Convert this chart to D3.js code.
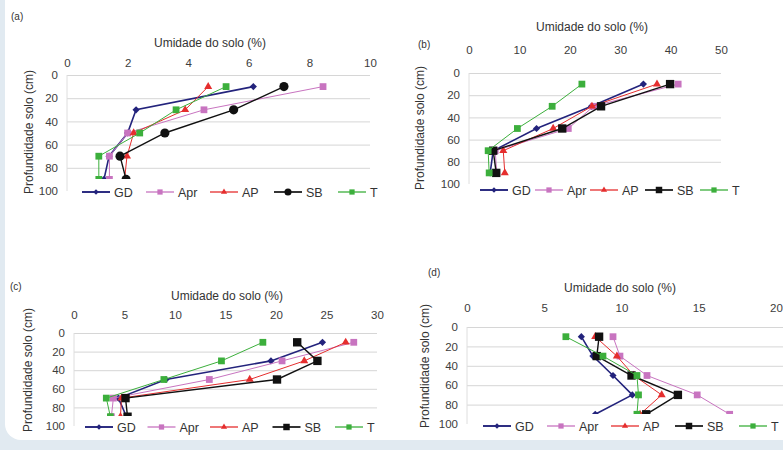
<!DOCTYPE html>
<html>
<head>
  <meta charset="utf-8">
  <title>Umidade do solo</title>
  <style>
    html, body { margin: 0; padding: 0; background: #e1eaf1; }
    svg { display: block; font-family: "Liberation Sans", Arial, sans-serif; }
    .tick text { fill: #3c3c3c; }
    .grid line { stroke: #d6d6d6; }
    .grid path { display: none; }
  </style>
  <script src="https://d3js.org/d3.v7.min.js"></script>
</head>
<body>
<svg width="783" height="450"></svg>
<script>
// depths (cm) of the measurements, same for every panel
var depths = [10, 30, 50, 70, 90];
var seriesNames = ["GD", "Apr", "AP", "SB", "T"];
var yTicks = [0, 20, 40, 60, 80, 100];

// (a) values, one row per series: GD, Apr, AP, SB, T
var valuesA = [
  [6.15, 2.28, 2.0, 1.39, 1.22],
  [8.45, 4.52, 2.0, 1.4, 1.4],
  [4.66, 3.9, 2.2, 1.98, 1.9],
  [7.16, 5.5, 3.23, 1.75, 1.95],
  [5.25, 3.6, 2.4, 1.05, 1.05]
];
var xTicksA = [0, 2, 4, 6, 8, 10];

// (b)
var valuesB = [
  [34.6, 24.3, 13.4, 4.8, 4.2],
  [41.5, 24.7, 19.7, 5.2, 5.5],
  [37.3, 24.4, 16.7, 6.8, 7.1],
  [39.9, 26.2, 18.5, 4.8, 5.4],
  [22.4, 16.5, 9.6, 3.8, 4.0]
];
var xTicksB = [0, 10, 20, 30, 40, 50];

// (c)
var valuesC = [
  [24.6, 19.5, 9.1, 4.4, 5.2],
  [27.7, 20.6, 13.4, 3.9, 3.7],
  [26.9, 22.8, 17.4, 4.7, 4.6],
  [22.1, 24.1, 20.1, 5.1, 5.3],
  [18.7, 14.6, 8.9, 3.2, 3.6]
];
var xTicksC = [0, 5, 10, 15, 20, 25, 30];

// (d)
var valuesD = [
  [7.4, 8.15, 9.45, 10.7, 8.3],
  [9.45, 9.9, 11.65, 14.9, 17.0],
  [8.3, 9.7, 10.8, 12.6, 11.2],
  [8.55, 8.4, 10.65, 13.65, 11.6],
  [6.4, 8.8, 11.0, 11.1, 11.0]
];
var xTicksD = [0, 5, 10, 15, 20];

var colors = ["#23237c", "#c874c0", "#e52e2e", "#111111", "#3caf3c"];
var widths = [1.6, 1, 1, 1.4, 1];

// excel style diamond: a square turned 45 degrees
var symbolDiamondSq = {
  draw: function(ctx, size) {
    var r = Math.sqrt(size / 2);
    ctx.moveTo(0, -r);
    ctx.lineTo(r, 0);
    ctx.lineTo(0, r);
    ctx.lineTo(-r, 0);
    ctx.closePath();
  }
};

var svg = d3.select("svg");

// page frame: light blue background with white rounded sheet
svg.append("rect")
    .attr("x", 5).attr("y", -20)
    .attr("width", 800).attr("height", 460)
    .attr("rx", 16)
    .attr("fill", "#ffffff");

function drawPanel(p) {
  var x = d3.scaleLinear().domain([p.xTicks[0], p.xTicks[p.xTicks.length - 1]]).range([p.x0, p.x1]);
  var y = d3.scaleLinear().domain([0, 100]).range([p.y0, p.y1]);
  var g = svg.append("g");

  // horizontal grid
  g.append("g")
      .attr("class", "grid")
      .attr("transform", "translate(" + p.x0 + ",0)")
      .call(d3.axisRight(y).tickValues(yTicks.slice(0, 5)).tickSize(p.x1 - p.x0 + p.gridExtra).tickFormat(""));

  // faint vertical axis line
  g.append("line")
      .attr("x1", p.x0).attr("x2", p.x0)
      .attr("y1", p.y0).attr("y2", p.y1)
      .attr("stroke", "#dedede");

  // x tick labels on top
  var xa = g.append("g")
      .attr("transform", "translate(0," + p.y0 + ")")
      .call(d3.axisTop(x).tickValues(p.xTicks).tickSize(0).tickPadding(p.xPad));
  xa.select(".domain").remove();
  xa.selectAll("text").attr("font-size", 11.5);

  var ya = g.append("g")
      .attr("transform", "translate(" + p.x0 + ",0)")
      .call(d3.axisLeft(y).tickValues(yTicks).tickSize(0).tickPadding(9));
  ya.select(".domain").remove();
  ya.selectAll("text").attr("font-size", 11.5);

  // axis titles and panel label
  g.append("text")
      .attr("x", p.titleX).attr("y", p.titleY)
      .attr("text-anchor", "middle")
      .attr("font-size", 12)
      .attr("fill", "#333")
      .text("Umidade do solo (%)");
  g.append("text")
      .attr("transform", "translate(" + p.yTitleX + "," + p.yTitleY + ") rotate(-90)")
      .attr("text-anchor", "middle")
      .attr("font-size", 12)
      .attr("fill", "#333")
      .text("Profundidade solo (cm)");
  g.append("text")
      .attr("x", p.labelX).attr("y", p.labelY)
      .attr("font-size", 10)
      .attr("fill", "#333")
      .text(p.label);

  var line = d3.line()
      .x(function(d) { return x(d[0]); })
      .y(function(d) { return y(d[1]); });

  var shapes = [symbolDiamondSq, d3.symbolSquare, d3.symbolTriangle, p.sbCircle ? d3.symbolCircle : d3.symbolSquare, d3.symbolSquare];
  var sizes = [26, 46, 28, p.sbCircle ? 66 : 70, 46];

  p.values.forEach(function(vals, i) {
    var pts = vals.map(function(v, k) { return [v, depths[k]]; });
    g.append("path")
        .datum(pts)
        .attr("d", line)
        .attr("fill", "none")
        .attr("stroke", colors[i])
        .attr("stroke-width", widths[i]);
    g.selectAll(null)
        .data(pts)
        .enter().append("path")
        .attr("transform", function(d) { return "translate(" + x(d[0]) + "," + y(d[1]) + ")"; })
        .attr("d", d3.symbol().type(shapes[i]).size(sizes[i]))
        .attr("fill", colors[i]);
  });

  // legend, drawn on a white box that hides the bottom of the plot
  var lg = g.append("g").attr("transform", "translate(0," + p.legendY + ")");
  lg.append("rect")
      .attr("x", p.x0 + 2).attr("y", -p.legendTop)
      .attr("width", p.x1 - p.x0 + 10).attr("height", p.legendTop + 10)
      .attr("fill", "#ffffff");
  seriesNames.forEach(function(name, i) {
    var lx = p.legendX + i * p.legendStep;
    lg.append("line")
        .attr("x1", lx).attr("x2", lx + 28)
        .attr("stroke", colors[i])
        .attr("stroke-width", widths[i] + 0.3);
    lg.append("path")
        .attr("transform", "translate(" + (lx + 14) + ",0)")
        .attr("d", d3.symbol().type(shapes[i]).size(sizes[i] * 0.6))
        .attr("fill", colors[i]);
    lg.append("text")
        .attr("x", lx + 32).attr("dy", "0.36em")
        .attr("font-size", 12.5)
        .attr("fill", "#333")
        .text(name);
  });
}

drawPanel({
  label: "(a)", labelX: 11, labelY: 20,
  values: valuesA, xTicks: xTicksA, sbCircle: true,
  x0: 67, x1: 370, y0: 75, y1: 191, gridExtra: 0, xPad: 8,
  titleX: 210, titleY: 47, yTitleX: 33, yTitleY: 132,
  legendY: 192, legendTop: 13, legendX: 82, legendStep: 64
});
drawPanel({
  label: "(b)", labelX: 418, labelY: 48,
  values: valuesB, xTicks: xTicksB,
  x0: 469, x1: 721, y0: 73, y1: 184, gridExtra: 0, xPad: 19,
  titleX: 592, titleY: 31, yTitleX: 424, yTitleY: 128,
  legendY: 190, legendTop: 8, legendX: 480, legendStep: 55
});
drawPanel({
  label: "(c)", labelX: 10, labelY: 290,
  values: valuesC, xTicks: xTicksC,
  x0: 74, x1: 377, y0: 333, y1: 426, gridExtra: 0, xPad: 14,
  titleX: 227, titleY: 300, yTitleX: 32, yTitleY: 370,
  legendY: 427, legendTop: 11, legendX: 85, legendStep: 62.5
});
drawPanel({
  label: "(d)", labelX: 428, labelY: 276,
  values: valuesD, xTicks: xTicksD,
  x0: 467, x1: 776, y0: 327, y1: 424, gridExtra: 10, xPad: 15,
  titleX: 620, titleY: 292, yTitleX: 429, yTitleY: 366,
  legendY: 426, legendTop: 12, legendX: 483, legendStep: 64
});
</script>
</body>
</html>
